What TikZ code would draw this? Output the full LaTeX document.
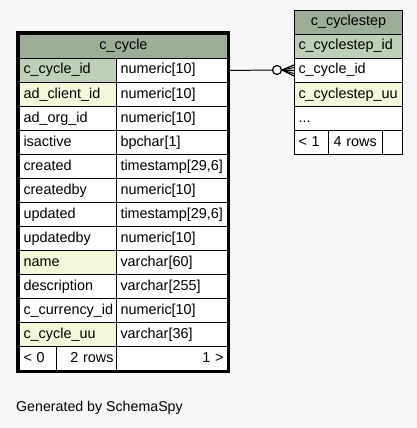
\documentclass[tikz,border=0pt]{standalone}
\usepackage{fontspec}
\setmainfont{Liberation Sans}
\definecolor{bg}{HTML}{F7F7F7}
\definecolor{hdrc}{HTML}{9CAE98}
\definecolor{pkc}{HTML}{BED1B8}
\definecolor{idxc}{HTML}{F4F7DA}
\begin{document}
\begin{tikzpicture}[x=1pt,y=-1pt,
  base/.style={draw=black, line width=1pt, inner sep=0pt, minimum height=24pt,
    anchor=north west, font=\fontsize{14.4}{16}\selectfont, text height=10pt,
    text depth=3pt, fill=white},
  ca/.style={base, minimum width=97pt, text width=89pt, align=left},
  cb/.style={base, minimum width=111pt, text width=103pt, align=left},
  chead/.style={base, fill=hdrc, minimum width=208pt, text width=200pt, align=center},
  sa/.style={base, minimum width=108pt, text width=100pt, align=left},
  shead/.style={base, fill=hdrc, minimum width=108pt, text width=100pt, align=center},
  pk/.style={fill=pkc},
  idx/.style={fill=idxc}]
\useasboundingbox (0,0) rectangle (417,428);
\fill[bg] (0,0) rectangle (417,428);

% c_cycle table
\node[chead] (cyc) at (19,34) {c\_cycle};
\node[ca,pk]  (a1) at (19,58)  {c\_cycle\_id};       \node[cb] (b1) at (116,58)  {numeric[10]};
\node[ca,idx] (a2) at (19,82)  {ad\_client\_id};     \node[cb] (b2) at (116,82)  {numeric[10]};
\node[ca]     (a3) at (19,106) {ad\_org\_id};        \node[cb] (b3) at (116,106) {numeric[10]};
\node[ca]     (a4) at (19,130) {isactive};           \node[cb] (b4) at (116,130) {bpchar[1]};
\node[ca]     (a5) at (19,154) {created};            \node[cb] (b5) at (116,154) {timestamp[29,6]};
\node[ca]     (a6) at (19,178) {createdby};          \node[cb] (b6) at (116,178) {numeric[10]};
\node[ca]     (a7) at (19,202) {updated};            \node[cb] (b7) at (116,202) {timestamp[29,6]};
\node[ca]     (a8) at (19,226) {updatedby};          \node[cb] (b8) at (116,226) {numeric[10]};
\node[ca,idx] (a9) at (19,250) {name};               \node[cb] (b9) at (116,250) {varchar[60]};
\node[ca]     (a10) at (19,274) {description};       \node[cb] (b10) at (116,274) {varchar[255]};
\node[ca]     (a11) at (19,298) {c\_currency\_id};    \node[cb] (b11) at (116,298) {numeric[10]};
\node[ca,idx] (a12) at (19,322) {c\_cycle\_uu};       \node[cb] (b12) at (116,322) {varchar[36]};
\node[base, minimum width=37pt, text width=29pt, align=left] (f1) at (19,346) {< 0};
\node[base, minimum width=60pt, text width=54pt, align=right] (f2) at (56,346) {2 rows};
\node[cb, align=right] (f3) at (116,346) {1 >};
\draw[line width=3pt] (17.5,32.5) rectangle (228.5,371.5);

% c_cyclestep table
\node[shead] (cs) at (294,10) {c\_cyclestep};
\node[sa,pk]  (s1) at (294,34)  {c\_cyclestep\_id};
\node[sa]     (s2) at (294,58)  {c\_cycle\_id};
\node[sa,idx] (s3) at (294,82)  {c\_cyclestep\_uu};
\node[sa]     (s4) at (294,106) {...};
\node[base, minimum width=34pt, text width=26pt, align=left] (g1) at (294,130) {< 1};
\node[base, minimum width=54pt, text width=44pt, align=left] (g2) at (328,130) {4 rows};
\node[base, minimum width=20pt] (g3) at (382,130) {};

% connector
\node[draw=black, line width=1.2pt, circle, fill=white, minimum size=9pt, inner sep=0pt] (oc) at (277,70) {};
\coordinate (tip) at (282,70);
\draw[line width=1pt] (b1.east) -- (oc.west);
\draw[line width=1.3pt] (oc.east) -- (s2.west);
\draw[line width=1.3pt] ([yshift=5.5pt]s2.west) -- (tip) -- ([yshift=-5.5pt]s2.west);
\draw[line width=1pt] ([yshift=3pt]s2.west) -- (tip) -- ([yshift=-3pt]s2.west);

\node[anchor=west, inner sep=0pt, font=\fontsize{14.2}{16}\selectfont] (gen) at (16,408) {Generated by SchemaSpy};
\end{tikzpicture}
\end{document}
